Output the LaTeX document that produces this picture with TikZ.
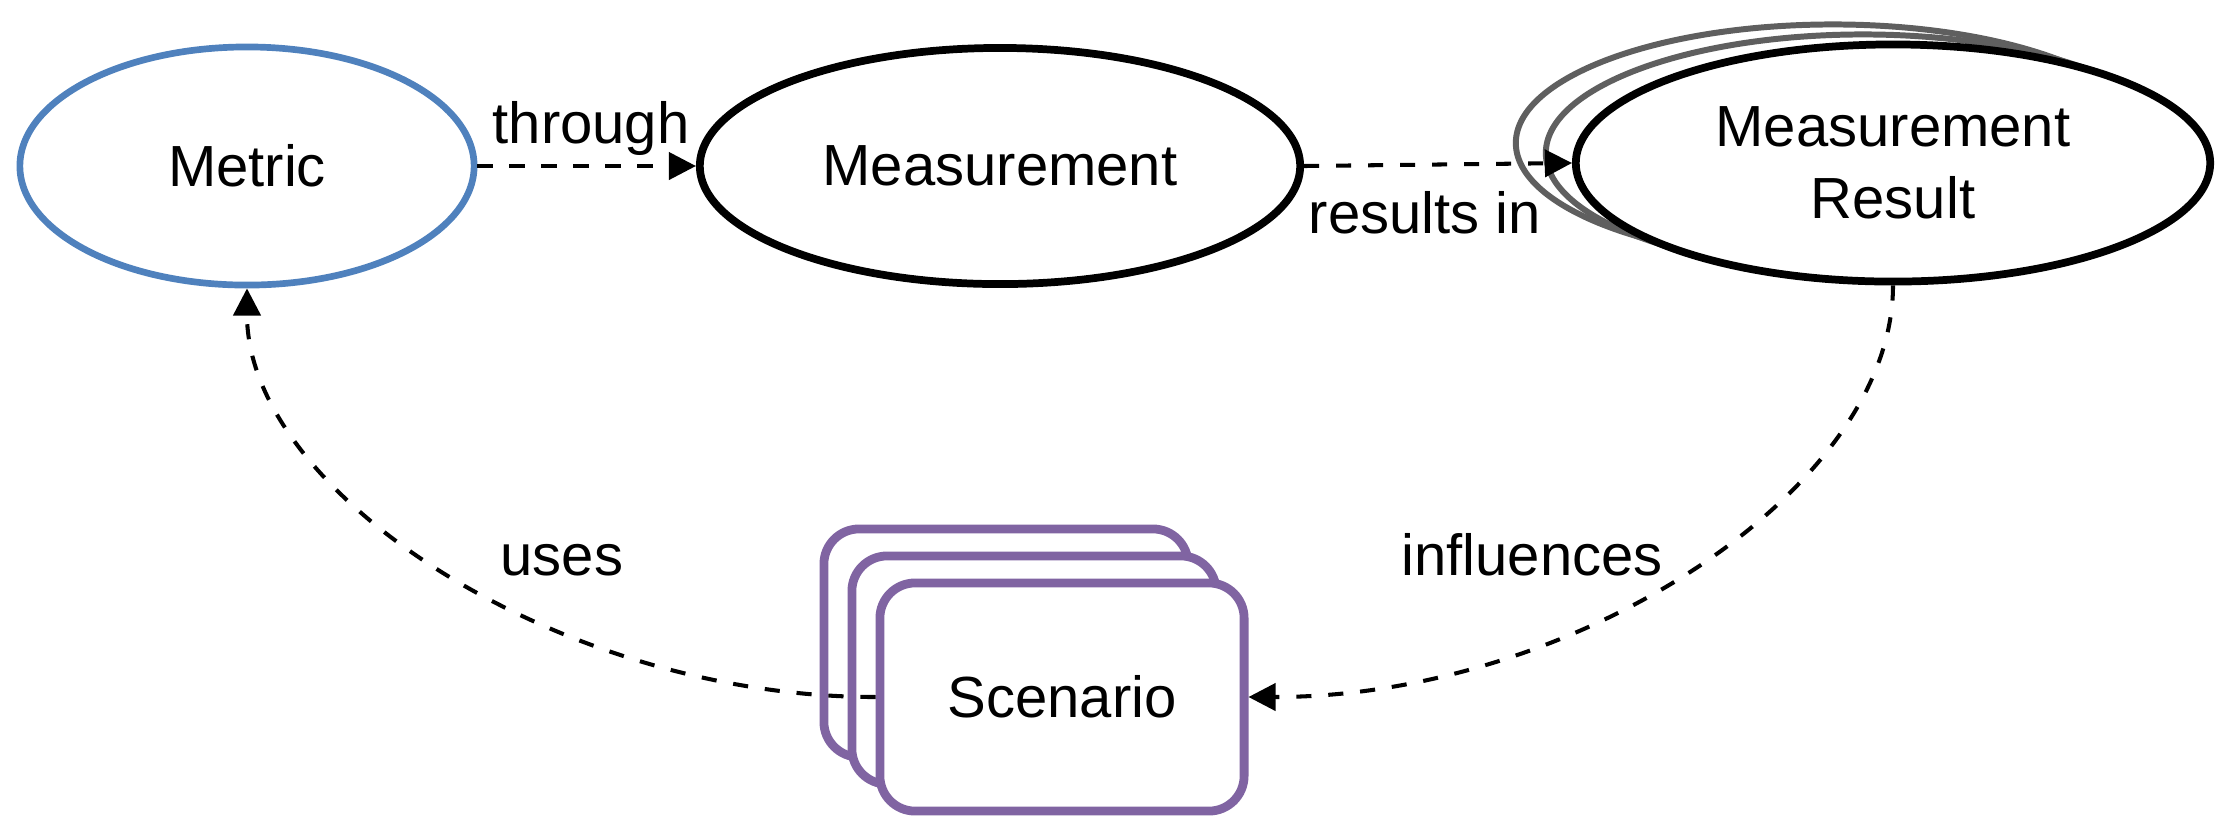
\documentclass[tikz,border=0pt]{standalone}
\usepackage{fontspec}
\setmainfont{Liberation Sans}
\usetikzlibrary{shapes.geometric,arrows.meta}
\definecolor{metricblue}{RGB}{79,129,189}
\definecolor{scpurple}{RGB}{128,100,162}
\definecolor{backgray}{RGB}{95,95,95}
\begin{document}
\begin{tikzpicture}[x=0.01cm,y=-0.01cm,
  every node/.style={font=\fontsize{16.5}{20.5}\selectfont},
  ell/.style={ellipse, draw, fill=white, inner sep=0pt},
  metricnode/.style={ell, draw=metricblue, line width=1.9pt, minimum width=4.54cm, minimum height=2.38cm},
  measnode/.style={ell, draw=black, line width=2.2pt, minimum width=6.0cm, minimum height=2.36cm},
  resnode/.style={ell, draw=black, line width=2.2pt, minimum width=6.34cm, minimum height=2.37cm, align=center},
  resback/.style={resnode, draw=backgray, line width=1.7pt},
  scnode/.style={rectangle, rounded corners=10pt, draw=scpurple, line width=2.5pt, fill=white, minimum width=3.64cm, minimum height=2.28cm, inner sep=0pt},
  conn/.style={draw=black, line width=1.15pt, dash pattern=on 4.3pt off 4.8pt, -{Triangle[length=7.7pt,width=7.7pt]}},
  lbl/.style={anchor=base, inner sep=0pt}
]
\useasboundingbox (0,0) rectangle (2227,817);

\node[metricnode] (metric) at (247,166) {Metric};
\node[measnode] (meas) at (1000,166) {Measurement};
\node[resback] (res2) at (1833,143) {};
\node[resback] (res1) at (1863,153) {};
\node[resnode] (res) at (1893,163) {Measurement\\Result};
\node[scnode] (sc2) at (1006,643) {};
\node[scnode] (sc1) at (1034,670) {};
\node[scnode] (sc) at (1062,697) {Scenario};

\draw[conn] (metric.east) -- (meas.west);
\draw[conn] (meas.east) -- (res.west);
\draw[conn] (res.south) .. controls +(0,206) and +(324,0) .. (sc.east);
\draw[conn] (sc.west) .. controls +(-316,0) and +(0,205) .. (metric.south);

\node[lbl] (lthrough) at (591,143) {through};
\node[lbl] (lresults) at (1425,233) {results in};
\node[lbl] (linfl) at (1532,575) {influences};
\node[lbl] (luses) at (562,575) {uses};
\end{tikzpicture}
\end{document}
